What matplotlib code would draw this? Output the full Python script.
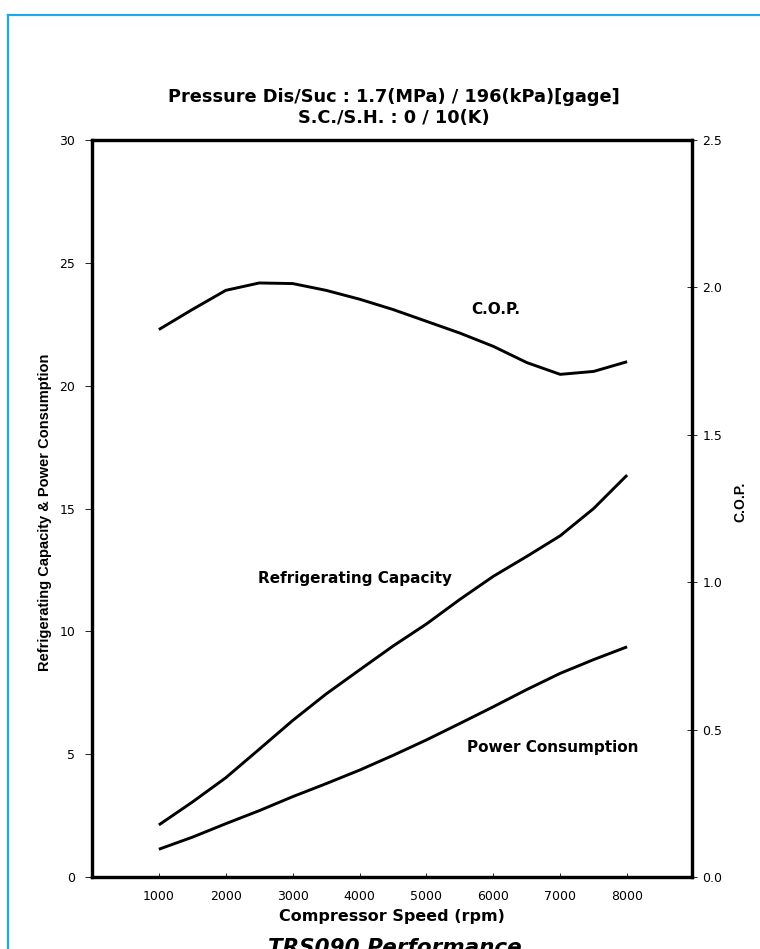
import matplotlib
matplotlib.use("Agg")
import matplotlib.pyplot as plt
from matplotlib.lines import Line2D

plt.rcParams['font.family'] = ['DejaVu Sans']

# Compressor speed (rpm)
speed = [1000, 1500, 2000, 2500, 3000, 3500, 4000, 4500,
         5000, 5500, 6000, 6500, 7000, 7500, 8000]

# Refrigerating capacity and power consumption (left axis)
capacity = [2.12, 3.05, 4.04, 5.20, 6.37, 7.45, 8.43, 9.40,
            10.30, 11.30, 12.24, 13.05, 13.89, 15.00, 16.36]
power = [1.13, 1.62, 2.17, 2.70, 3.27, 3.80, 4.35, 4.95,
         5.58, 6.25, 6.93, 7.63, 8.29, 8.85, 9.37]

# Coefficient of performance (right axis)
cop = [1.857, 1.925, 1.990, 2.015, 2.013, 1.990, 1.960, 1.925,
       1.885, 1.845, 1.800, 1.745, 1.705, 1.715, 1.748]

x_ticks = [1000, 2000, 3000, 4000, 5000, 6000, 7000, 8000]
left_ticks = [0, 5, 10, 15, 20, 25, 30]
right_ticks = [0.0, 0.5, 1.0, 1.5, 2.0, 2.5]

W, H = 760, 949
fig = plt.figure(figsize=(W / 100, H / 100), dpi=100)
fig.patch.set_facecolor('white')

# light blue page frame (left and top edges)
frame_col = '#1CA9EC'
fig.add_artist(Line2D([8 / W, 8 / W], [0, 1 - 15 / H], color=frame_col,
                      lw=1.6, transform=fig.transFigure))
fig.add_artist(Line2D([8 / W, 1.0], [1 - 15 / H, 1 - 15 / H], color=frame_col,
                      lw=1.6, transform=fig.transFigure))

ax = fig.add_axes([92 / W, 1 - 877 / H, 600 / W, 737 / H])
ax.set_xlim(0, 8970)
ax.set_ylim(0, 30)
ax.plot(speed, capacity, color='black', lw=2.1, solid_capstyle='butt')
ax.plot(speed, power, color='black', lw=2.1, solid_capstyle='butt')

ax2 = ax.twinx()
ax2.set_ylim(0, 2.5)
ax2.plot(speed, cop, color='black', lw=2.1, solid_capstyle='butt')

for a in (ax, ax2):
    for s in a.spines.values():
        s.set_linewidth(2.3)
        s.set_color('black')

ax.set_xticks(x_ticks)
ax.set_xticklabels([str(v) for v in x_ticks])
ax.set_yticks(left_ticks)
ax.set_yticklabels([str(v) for v in left_ticks])
ax2.set_yticks(right_ticks)
ax2.set_yticklabels([f'{v:.1f}' for v in right_ticks])

ax.tick_params(axis='x', direction='in', length=3, width=0.6, pad=9,
               labelsize=9)
ax.tick_params(axis='y', direction='out', length=5, width=0.6, pad=7,
               labelsize=9)
ax2.tick_params(axis='y', direction='inout', length=7, width=0.6, pad=4,
                labelsize=9)

ax.set_xlabel('Compressor Speed (rpm)', fontsize=11.5, fontweight='bold',
              labelpad=5)

# curve annotations
ax.text(6029, 23.12, 'C.O.P.', ha='center', va='center', fontsize=11,
        fontweight='bold')
ax.text(3931, 12.17, 'Refrigerating Capacity', ha='center', va='center',
        fontsize=11, fontweight='bold')
ax.text(6895, 5.27, 'Power Consumption', ha='center', va='center',
        fontsize=11, fontweight='bold')

# headings and axis titles
fig.text(394 / W, 1 - 97 / H, 'Pressure Dis/Suc : 1.7(MPa) / 196(kPa)[gage]',
         ha='center', va='center', fontsize=12.8, fontweight='bold')
fig.text(394 / W, 1 - 118 / H, 'S.C./S.H. : 0 / 10(K)',
         ha='center', va='center', fontsize=12.8, fontweight='bold')
fig.text(45 / W, 1 - 512 / H, 'Refrigerating Capacity & Power Consumption',
         rotation=90, ha='center', va='center', fontsize=10.5,
         fontweight='bold', family=['Liberation Sans Narrow', 'Liberation Sans'])
fig.text(740 / W, 1 - 502 / H, 'C.O.P.', rotation=90, ha='center',
         va='center', fontsize=10, fontweight='bold',
         family=['Liberation Sans'])
fig.text(395 / W, 1 - 938 / H, 'TRS090 Performance', ha='center', va='top',
         fontsize=15.5, fontweight='bold', style='italic')

fig.savefig('out.png', dpi=100, facecolor='white')
